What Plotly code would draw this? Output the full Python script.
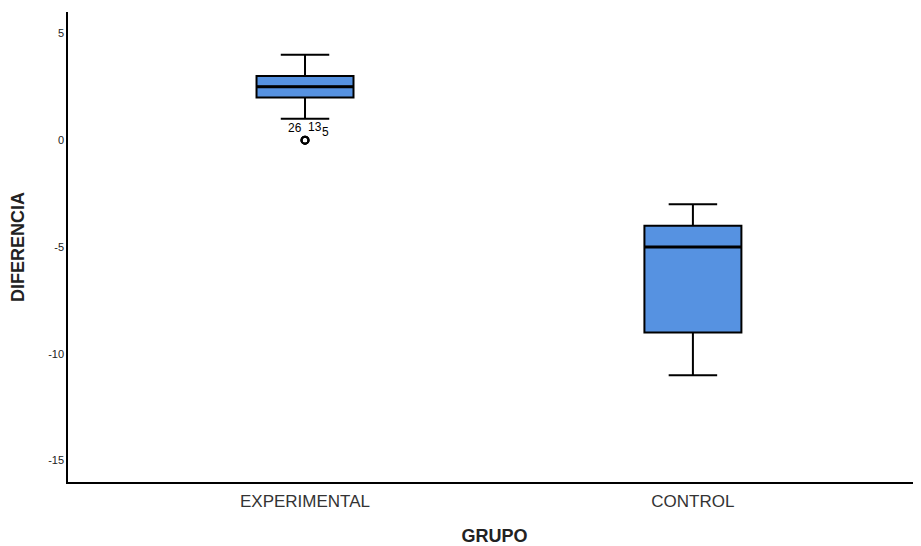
import plotly.graph_objects as go

groups = ["EXPERIMENTAL", "CONTROL"]
q1 = [2, -9]
median = [2.5, -5]
q3 = [3, -4]
lower = [1, -11]
upper = [4, -3]

outlier_group = ["EXPERIMENTAL", "EXPERIMENTAL", "EXPERIMENTAL"]
outlier_values = [0, 0, 0]
outlier_ids = ["26", "13", "5"]

y_ticks = [5, 0, -5, -10, -15]
y_tick_text = ["5", "0", "-5", "-10", "-15"]

fig = go.Figure()
fig.add_trace(go.Box(
    x=groups, q1=q1, median=median, q3=q3,
    lowerfence=lower, upperfence=upper,
    fillcolor="#5692e1",
    line=dict(color="black", width=2),
    width=0.25, whiskerwidth=0.5,
    boxpoints=False, showlegend=False, hoverinfo="skip",
))
# thicker median line (degenerate box drawn at the median)
fig.add_trace(go.Box(
    x=groups, q1=median, median=median, q3=median,
    lowerfence=median, upperfence=median,
    fillcolor="rgba(0,0,0,0)",
    line=dict(color="black", width=3.2),
    width=0.25, whiskerwidth=0.5,
    boxpoints=False, showlegend=False, hoverinfo="skip",
))
fig.add_trace(go.Scatter(
    x=outlier_group, y=outlier_values, mode="markers",
    marker=dict(symbol="circle-open", size=7, color="black", line=dict(width=2)),
    showlegend=False, hoverinfo="skip",
))

# outlier labels
offsets = [(-10, 12), (10, 13), (20, 8)]
for g, v, lab, (dx, dy) in zip(outlier_group, outlier_values, outlier_ids, offsets):
    fig.add_annotation(x=g, y=v, text=lab, showarrow=False,
                       xshift=dx, yshift=dy,
                       font=dict(family="Arial, Liberation Sans", size=12, color="black"))

fig.update_layout(
    width=913, height=538,
    margin=dict(l=60, r=0, t=4, b=64),
    paper_bgcolor="white", plot_bgcolor="white",
    boxmode="overlay",
    font=dict(family="Arial, Liberation Sans", color="#222"),
    xaxis=dict(
        type="category", range=[-0.611, 1.588],
        showline=True, linecolor="black", linewidth=1.5,
        ticks="outside", ticklen=3, tickcolor="rgba(0,0,0,0)",
        showgrid=False, zeroline=False,
        tickfont=dict(size=17, color="#333"),
        title=dict(text="<b>GRUPO</b>", font=dict(size=18, color="#222"), standoff=21),
    ),
    yaxis=dict(
        range=[-16, 6], showline=True, linecolor="black", linewidth=1.5,
        ticks="", showgrid=False, zeroline=False,
        tickvals=y_ticks, ticktext=y_tick_text,
        tickfont=dict(size=11, color="#222"),
        title=dict(text="<b>DIFERENCIA</b>", font=dict(size=18, color="#222"), standoff=20),
    ),
)

fig.write_html("out.html")
